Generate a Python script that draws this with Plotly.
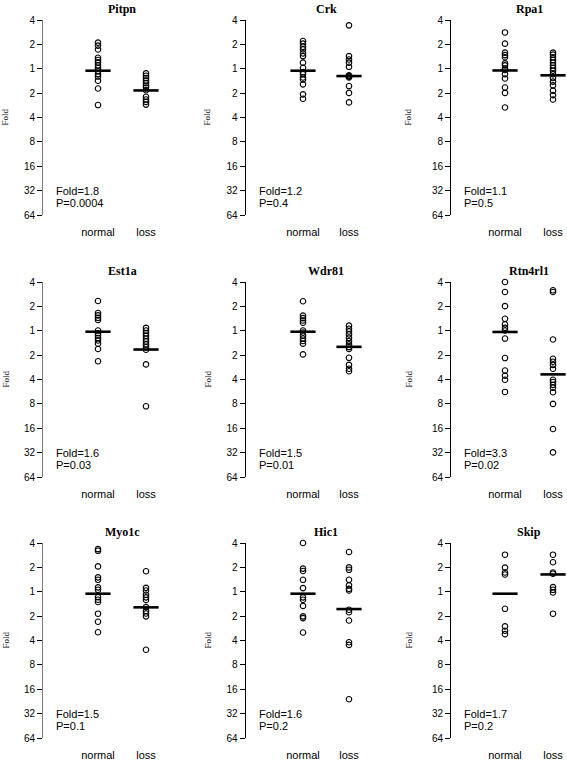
import plotly.graph_objects as go

# ---------------- data (log2 fold; positive = above 1) ----------------
genes = ["Pitpn", "Crk", "Rpa1", "Est1a", "Wdr81", "Rtn4rl1", "Myo1c", "Hic1", "Skip"]
categories = ["normal", "loss"]

pitpn_normal = [1.07, 0.95, 0.79, 0.45, 0.36, 0.26, 0.14, 0.03, -0.10, -0.22, -0.32, -0.49, -0.81, -1.49]
pitpn_loss = [-0.19, -0.29, -0.38, -0.48, -0.59, -0.70, -0.77, -0.88, -1.15, -1.26, -1.36, -1.47]
crk_normal = [1.14, 1.03, 0.90, 0.79, 0.63, 0.52, 0.25, 0.04, -0.14, -0.22, -0.36, -0.44, -0.64, -1.05, -1.23]
crk_loss = [1.78, 0.52, 0.38, 0.25, 0.08, -0.27, -0.30, -0.33, -0.36, -0.71, -0.99, -1.38]
rpa1_normal = [1.49, 1.03, 0.66, 0.56, 0.47, 0.22, 0.14, 0.01, -0.05, -0.22, -0.40, -0.77, -0.99, -1.59]
rpa1_loss = [0.66, 0.58, 0.47, 0.36, 0.25, 0.14, 0.03, -0.08, -0.22, -0.38, -0.53, -0.68, -0.90, -1.08, -1.26]
est1a_normal = [1.22, 0.73, 0.63, 0.53, 0.44, 0.01, -0.10, -0.19, -0.30, -0.40, -0.53, -0.75, -1.25]
est1a_loss = [0.12, 0.01, -0.10, -0.21, -0.33, -0.44, -0.56, -0.67, -0.78, -1.38, -3.10]
wdr81_normal = [1.21, 0.62, 0.52, 0.42, 0.33, 0.01, -0.07, -0.19, -0.32, -0.42, -0.53, -0.97]
wdr81_loss = [0.21, 0.08, -0.03, -0.15, -0.29, -0.42, -0.56, -0.67, -0.75, -1.11, -1.40, -1.56, -1.66]
rtn4rl1_normal = [2.00, 1.59, 1.01, 0.49, 0.26, 0.12, 0.01, -0.32, -1.12, -1.63, -1.84, -2.01, -2.51]
rtn4rl1_loss = [1.66, 1.59, -0.36, -1.15, -1.27, -1.40, -1.56, -2.01, -2.10, -2.22, -2.34, -2.52, -3.00, -4.03, -4.99]
myo1c_normal = [1.75, 1.68, 1.04, 0.59, 0.49, 0.18, 0.08, -0.22, -0.33, -0.42, -0.90, -1.23, -1.66]
myo1c_loss = [0.84, 0.16, 0.05, -0.12, -0.23, -0.34, -0.63, -0.79, -0.89, -1.01, -2.38]
hic1_normal = [2.00, 0.95, 0.85, 0.49, 0.15, -0.23, -0.33, -0.58, -1.01, -1.08, -1.67]
hic1_loss = [1.63, 1.00, 0.90, 0.49, 0.26, 0.12, 0.05, -0.74, -0.84, -1.18, -2.07, -2.18, -4.41]
skip_normal = [1.52, 0.99, 0.79, 0.71, -0.70, -1.42, -1.60, -1.74]
skip_loss = [1.52, 1.21, 0.79, 0.74, 0.19, 0.08, -0.03, -0.90]

normal_mean = [-0.08, -0.08, -0.07, -0.04, -0.04, -0.05, -0.08, -0.08, -0.08]
loss_mean = [-0.89, -0.30, -0.27, -0.77, -0.66, -1.79, -0.64, -0.71, 0.71]

fold_values = ["1.8", "1.2", "1.1", "1.6", "1.5", "3.3", "1.5", "1.6", "1.7"]
p_values = ["0.0004", "0.4", "0.5", "0.03", "0.01", "0.02", "0.1", "0.2", "0.2"]

tick_vals = [2, 1, 0, -1, -2, -3, -4, -5, -6]
tick_labels = ["4", "2", "1", "2", "4", "8", "16", "32", "64"]

normals = [pitpn_normal, crk_normal, rpa1_normal, est1a_normal, wdr81_normal,
           rtn4rl1_normal, myo1c_normal, hic1_normal, skip_normal]
losses = [pitpn_loss, crk_loss, rpa1_loss, est1a_loss, wdr81_loss,
          rtn4rl1_loss, myo1c_loss, hic1_loss, skip_loss]

# ---------------- layout geometry (pixels) ----------------
W_FIG, H_FIG = 567, 760
col_axis = [43, 245.5, 451]
col_normal = [98, 303, 505]
col_loss = [146, 349, 553]
col_foldlab = [5, 207, 408]
col_linecolor = ["#7a7a7a", "black", "black"]
row_top = [20, 282, 543]
row_bot = [215, 477, 738]
PLOT_W = 112
Y_LO, Y_HI = -6, 2

SANS = "Liberation Sans, Arial, Helvetica, sans-serif"
SERIF = "Liberation Serif, Times New Roman, serif"

fig = go.Figure()
annotations = []

for i, gene in enumerate(genes):
    r, c = divmod(i, 3)
    k = "" if i == 0 else str(i + 1)
    unit = col_loss[c] - col_normal[c]
    lo = 1 - (col_normal[c] - col_axis[c]) / unit
    hi = lo + PLOT_W / unit
    px_per_y = (row_bot[r] - row_top[r]) / (Y_HI - Y_LO)

    xs = [1] * len(normals[i]) + [2] * len(losses[i])
    ys = normals[i] + losses[i]
    fig.add_trace(go.Scatter(
        x=xs, y=ys, mode="markers", xaxis="x" + k, yaxis="y" + k,
        marker=dict(symbol="circle-open", size=5.5, color="black", line=dict(width=1.1, color="black")),
        cliponaxis=False, showlegend=False, hoverinfo="y"))
    fig.add_trace(go.Scatter(
        x=[1, 2], y=[normal_mean[i], loss_mean[i]], mode="markers",
        xaxis="x" + k, yaxis="y" + k,
        marker=dict(symbol="line-ew-open", size=18, color="black", line=dict(width=2.6, color="black")),
        cliponaxis=False, showlegend=False, hoverinfo="y"))

    fig.update_layout(**{
        "xaxis" + k: dict(
            domain=[col_axis[c] / W_FIG, (col_axis[c] + PLOT_W) / W_FIG],
            range=[lo, hi], anchor="y" + k, showgrid=False, zeroline=False,
            showline=False, ticks="", tickvals=[1, 2], ticktext=categories,
            tickfont=dict(family=SANS, size=11, color="black"),
            ticklabelstandoff=9, automargin=False, fixedrange=True),
        "yaxis" + k: dict(
            domain=[1 - row_bot[r] / H_FIG, 1 - row_top[r] / H_FIG],
            range=[Y_LO, Y_HI], anchor="x" + k, showgrid=False, zeroline=False,
            showline=True, linecolor=col_linecolor[c], linewidth=1,
            ticks="outside", ticklen=5, tickcolor="black", tickwidth=1,
            tickvals=tick_vals, ticktext=tick_labels,
            tickfont=dict(family=SANS, size=10, color="black"),
            automargin=False, fixedrange=True),
    })

    # panel title
    annotations.append(dict(
        text="<b>" + gene + "</b>", x=1.5, xref="x" + k, y=1 - (row_top[r] - 20) / H_FIG,
        yref="paper", xanchor="center", yanchor="top", showarrow=False,
        font=dict(family=SERIF, size=12, color="black")))
    # y-axis title
    annotations.append(dict(
        text="Fold", textangle=-90, x=col_foldlab[c] / W_FIG, xref="paper",
        y=1 - (row_top[r] + row_bot[r]) / 2 / H_FIG, yref="paper",
        xanchor="center", yanchor="middle", showarrow=False,
        font=dict(family=SERIF, size=9, color="black")))
    # stats text
    annotations.append(dict(
        text="Fold=" + fold_values[i], x=lo + 11 / unit, xref="x" + k, y=-5, yref="y" + k,
        xanchor="left", yanchor="middle", showarrow=False,
        font=dict(family=SANS, size=11, color="black")))
    annotations.append(dict(
        text="P=" + p_values[i], x=lo + 11 / unit, xref="x" + k, y=-5 - 12 / px_per_y, yref="y" + k,
        xanchor="left", yanchor="middle", showarrow=False,
        font=dict(family=SANS, size=11, color="black")))

fig.update_layout(
    width=W_FIG, height=H_FIG, autosize=False,
    margin=dict(l=0, r=0, t=0, b=0),
    paper_bgcolor="white", plot_bgcolor="white",
    annotations=annotations, showlegend=False)

fig.write_html("out.html", config={"displayModeBar": False},
               post_script="document.body.style.margin='0';document.body.style.overflow='hidden';")
